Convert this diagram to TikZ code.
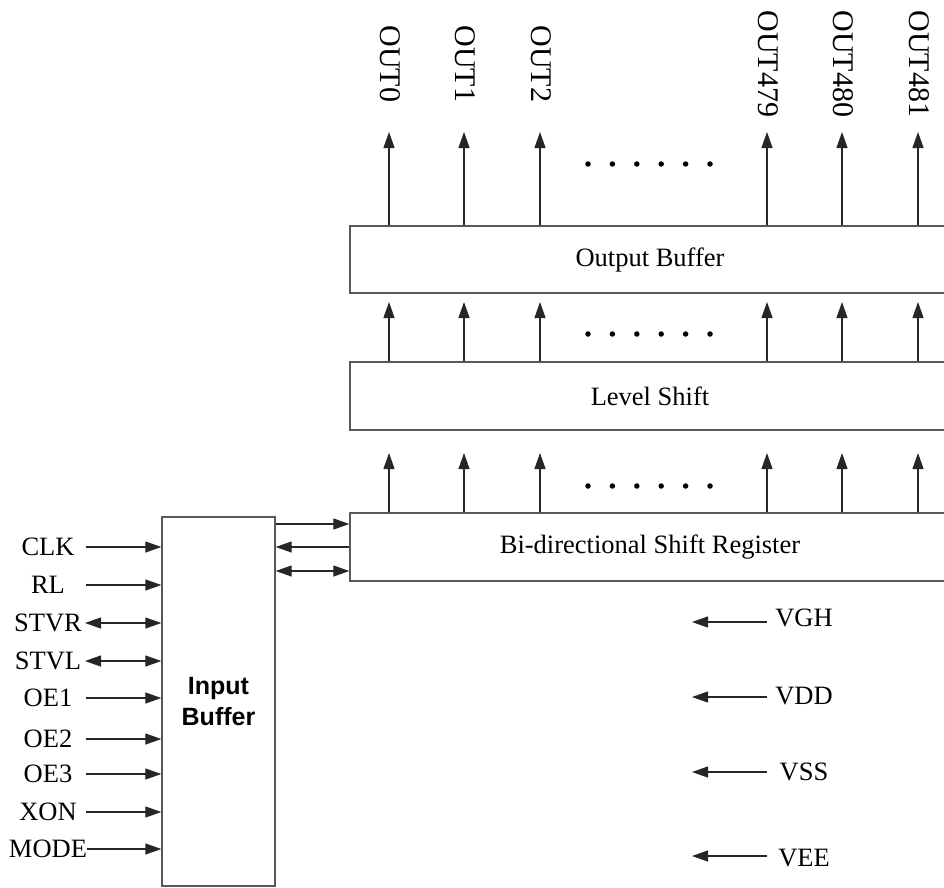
\documentclass[tikz,border=0pt]{standalone}
\usepackage{fontspec}
\setmainfont{Liberation Serif}
\newfontfamily\ibfont{Liberation Sans}
\usetikzlibrary{arrows.meta}
\begin{document}
\begin{tikzpicture}[x=1pt,y=-1pt,
  arr/.style={-{Triangle[length=16pt,width=11pt]}, line width=1.2pt, draw=black!85, fill=black},
  darr/.style={{Triangle[length=16pt,width=11pt]}-{Triangle[length=16pt,width=11pt]}, line width=1.2pt, draw=black!85, fill=black},
  blk/.style={draw=black!65, line width=1.4pt, rectangle, inner sep=0pt, minimum width=600pt, font=\fontsize{26.5}{30}\selectfont},
  lbl/.style={font=\fontsize{26.5}{30}\selectfont, inner sep=0pt},
  outl/.style={font=\fontsize{30}{34}\selectfont, rotate=-90, inner sep=0pt},
  dotn/.style={circle, fill=black, inner sep=0pt, minimum size=5.5pt}]
\useasboundingbox (0,0) rectangle (944,887);
\clip (0,0) rectangle (944,887);

% main blocks
\node[blk, minimum height=67pt] (ob) at (650,259.5) {Output Buffer};
\node[blk, minimum height=68pt] (ls) at (650,396) {Level Shift};
\node[blk, minimum height=68pt] (sr) at (650,547) {Bi-directional Shift Register};
\node[draw=black!65, line width=1.4pt, rectangle, inner sep=0pt,
      minimum width=113pt, minimum height=369pt, align=center,
      font=\ibfont\bfseries\fontsize{25}{31}\selectfont] (ib) at (218.5,701.5) {Input\\Buffer};

% output columns
\foreach \x/\n [count=\i] in {389/OUT0,464/OUT1,540/OUT2,767/OUT479,842/OUT480,918/OUT481} {
  \coordinate (ta\i) at (\x,132);
  \coordinate (tb\i) at (\x,302);
  \coordinate (tc\i) at (\x,453);
  \node[outl] (lab\i) at (\x+1,64) {\n};
  \draw[arr] (ob.north -| ta\i) -- (ta\i);
  \draw[arr] (ls.north -| tb\i) -- (tb\i);
  \draw[arr] (sr.north -| tc\i) -- (tc\i);
}

% dots
\foreach \k in {0,...,5} {
  \node[dotn] (da\k) at (588+24.4*\k,164) {};
  \node[dotn] (db\k) at (588+24.4*\k,334) {};
  \node[dotn] (dc\k) at (588+24.4*\k,486) {};
}

% inputs
\foreach \y/\n/\s in {547/CLK/86,585/RL/86,698/OE1/86,739/OE2/86,774/OE3/86,812/XON/86,849/MODE/87} {
  \node[lbl] (in\n) at (48,\y) {\n};
  \coordinate (s\n) at (\s,\y);
  \draw[arr] (s\n) -- (s\n -| ib.west);
}
\foreach \y/\n in {623/STVR,661/STVL} {
  \node[lbl] (in\n) at (48,\y) {\n};
  \coordinate (s\n) at (85,\y);
  \draw[darr] (s\n) -- (s\n -| ib.west);
}

% links input buffer <-> shift register
\coordinate (k1) at (275,524);
\coordinate (k2) at (275,547);
\coordinate (k3) at (275,571);
\draw[arr] (k1 -| ib.east) -- (k1 -| sr.west);
\draw[arr] (k2 -| sr.west) -- (k2 -| ib.east);
\draw[darr] (k3 -| ib.east) -- (k3 -| sr.west);

% supplies
\foreach \y/\ty/\n in {622/618/VGH,697/696/VDD,772/772/VSS,856/858/VEE} {
  \node[lbl] (p\n) at (804,\ty) {\n};
  \coordinate (ps\n) at (767,\y);
  \coordinate (pt\n) at (692,\y);
  \draw[arr] (ps\n) -- (pt\n);
}
\end{tikzpicture}
\end{document}
